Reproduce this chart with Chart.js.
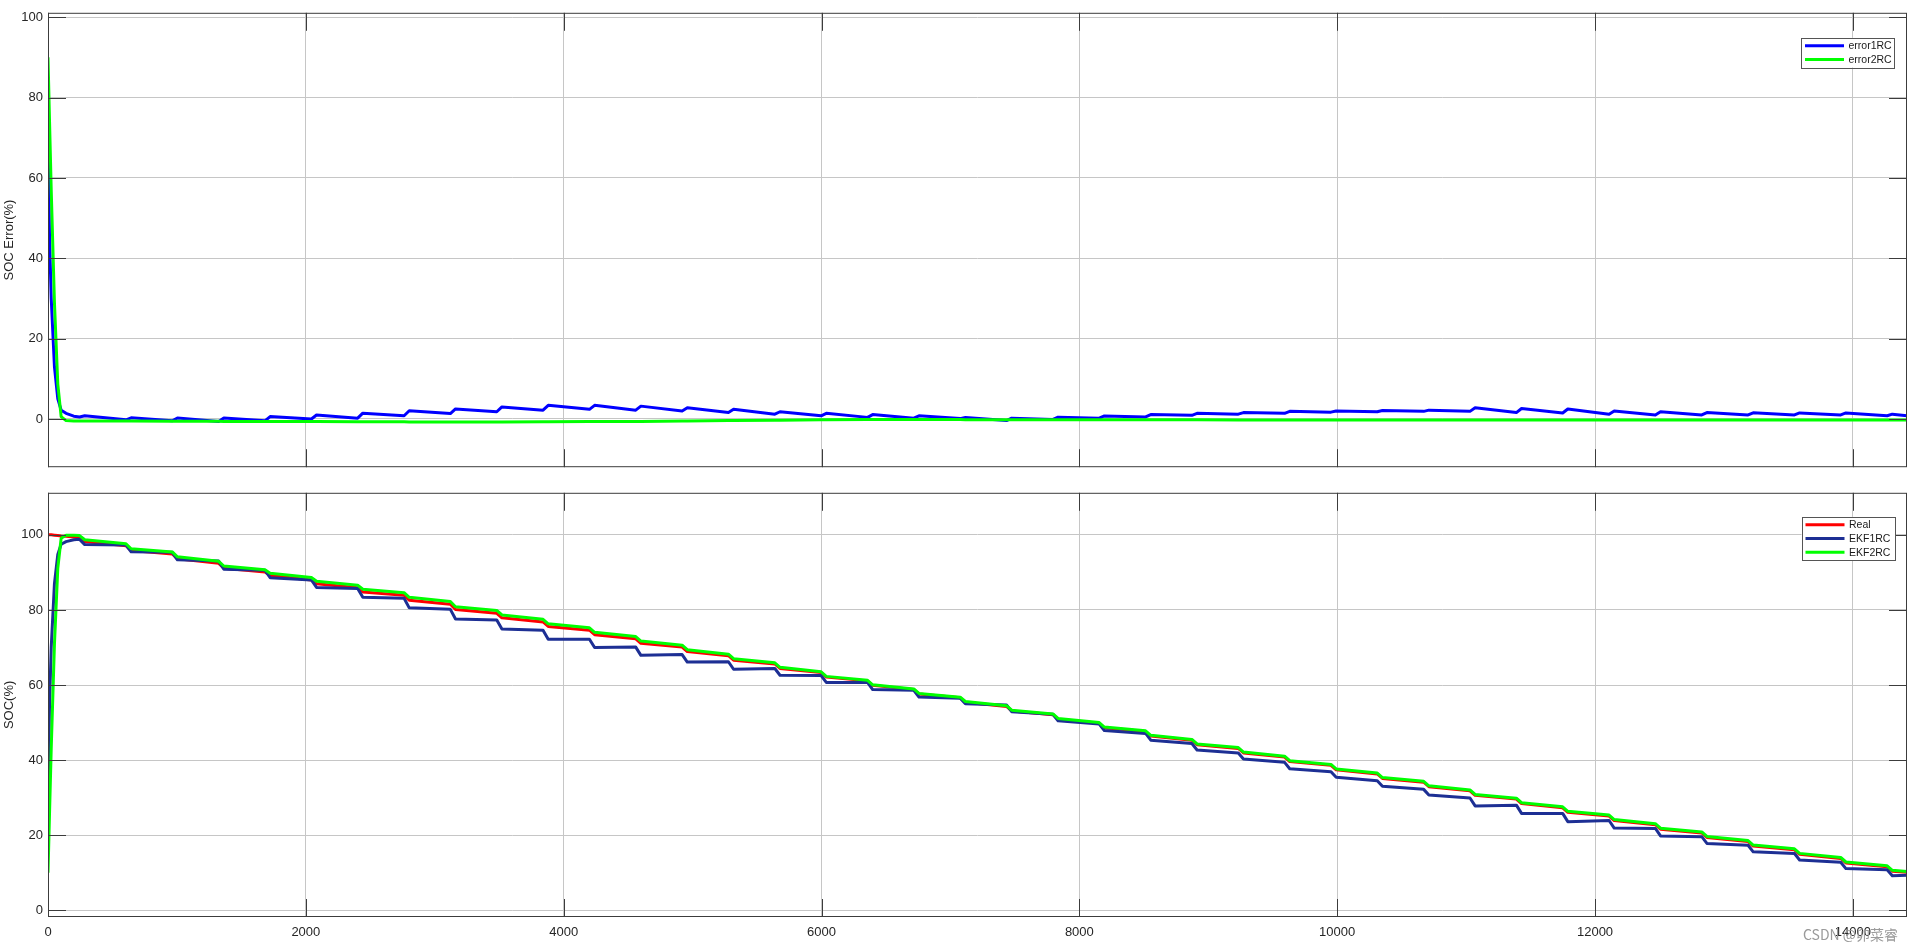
<!DOCTYPE html>
<html>
<head>
<meta charset="utf-8">
<script src="https://cdn.jsdelivr.net/npm/chart.js@4.4.1/dist/chart.umd.min.js"></script>
<style>
html, body { margin: 0; padding: 0; background: #fff; overflow: hidden; }
#wrap { position: relative; width: 1917px; height: 949px; background: #fff; }
canvas { position: absolute; left: 0; }
#c1 { top: 0; }
#c2 { top: 480px; }
#mark { position: absolute; left: 1803px; top: 924px; font: 14px "Noto Sans CJK SC", sans-serif; color: #9a9a9a; white-space: nowrap; }
</style>
</head>
<body>
<div id="wrap">
  <canvas id="c1" width="1917" height="480"></canvas>
  <canvas id="c2" width="1917" height="469"></canvas>
  <div id="mark">CSDN @卯菜睿</div>
</div>
<script>
// time samples (s): start-up, then two samples per discharge pulse
let timeS = [0, 12, 25, 50, 76, 102, 140, 200,
  245, 285, 605, 645, 964, 1004, 1324, 1364, 1683, 1723, 2043, 2083,
  2402, 2442, 2762, 2802, 3121, 3161, 3481, 3521, 3840, 3880,
  4200, 4240, 4559, 4599, 4919, 4959, 5278, 5318, 5638, 5678,
  5997, 6037, 6357, 6397, 6716, 6756, 7076, 7116, 7435, 7475,
  7795, 7835, 8154, 8194, 8514, 8554, 8873, 8913, 9233, 9273,
  9592, 9632, 9952, 9992, 10311, 10351, 10671, 10711, 11030, 11070,
  11390, 11430, 11749, 11789, 12109, 12149, 12468, 12508, 12828, 12868,
  13187, 13227, 13547, 13587, 13906, 13946, 14266, 14306, 14420];

// SOC error (%)
let err1 = [70, 45, 30, 13, 5, 2.2, 1.4, 0.7,
  0.5, 0.8, -0.2, 0.3, -0.45, 0.25, -0.6, 0.25, -0.45, 0.6, 0.0, 1.0,
  0.2, 1.45, 0.8, 2.05, 1.35, 2.5, 1.8, 3.0, 2.2, 3.4,
  2.4, 3.4, 2.2, 3.2, 2.0, 2.8, 1.6, 2.4, 1.2, 1.8,
  0.8, 1.4, 0.4, 1.1, 0.2, 0.8, 0.1, 0.4, -0.4, 0.2,
  -0.1, 0.45, 0.2, 0.75, 0.5, 1.1, 0.9, 1.4, 1.2, 1.6,
  1.4, 1.9, 1.7, 2.0, 1.8, 2.1, 1.9, 2.2, 1.9, 2.8,
  1.6, 2.6, 1.5, 2.5, 1.2, 2.0, 1.0, 1.8, 1.0, 1.6,
  1.0, 1.55, 1.0, 1.5, 1.0, 1.5, 0.8, 1.2, 0.8];
let err2 = [90, 74, 57, 29, 8.7, 0.6, -0.4, -0.5,
  -0.5, -0.5, -0.5, -0.5, -0.55, -0.55, -0.55, -0.6, -0.6, -0.6, -0.65, -0.65,
  -0.7, -0.7, -0.7, -0.75, -0.75, -0.75, -0.75, -0.75, -0.7, -0.7,
  -0.65, -0.65, -0.6, -0.6, -0.5, -0.5, -0.4, -0.4, -0.3, -0.3,
  -0.2, -0.2, -0.15, -0.15, -0.15, -0.15, -0.15, -0.2, -0.2, -0.2,
  -0.2, -0.2, -0.2, -0.2, -0.2, -0.2, -0.2, -0.2, -0.25, -0.25,
  -0.25, -0.25, -0.25, -0.25, -0.25, -0.25, -0.25, -0.25, -0.25, -0.25,
  -0.25, -0.25, -0.25, -0.25, -0.25, -0.25, -0.25, -0.25, -0.25, -0.25,
  -0.25, -0.25, -0.25, -0.25, -0.25, -0.25, -0.25, -0.25, -0.25];

// SOC (%)
let socReal = [100, 100, 100, 99.9, 99.8, 99.7, 99.6, 99.4,
  99.3, 98.2, 97.1, 95.8, 94.9, 93.6, 92.4, 91.1, 90.1, 89.2, 88.0, 87.0,
  85.9, 84.8, 83.9, 82.6, 81.5, 80.1, 79.1, 77.9, 76.8, 75.6,
  74.6, 73.4, 72.3, 71.1, 70.1, 68.9, 67.8, 66.6, 65.6, 64.4,
  63.3, 62.1, 61.1, 59.9, 58.8, 57.6, 56.6, 55.4, 54.3, 53.1,
  52.1, 50.9, 49.8, 48.6, 47.6, 46.4, 45.3, 44.1, 43.1, 41.9,
  40.8, 39.6, 38.6, 37.4, 36.3, 35.1, 34.1, 32.9, 31.8, 30.6,
  29.6, 28.4, 27.3, 26.1, 25.1, 23.9, 22.8, 21.6, 20.6, 19.4,
  18.3, 17.1, 16.1, 14.9, 13.8, 12.6, 11.6, 10.4, 10.1];
let socEkf1 = [30, 55, 70, 87, 94.8, 97.5, 98.2, 98.7,
  98.8, 97.4, 97.3, 95.5, 95.35, 93.35, 93.0, 90.85, 90.55, 88.6, 88.0, 86.0,
  85.7, 83.35, 83.1, 80.55, 80.15, 77.6, 77.3, 74.9, 74.6, 72.2,
  72.2, 70.0, 70.1, 67.9, 68.1, 66.1, 66.2, 64.2, 64.4, 62.6,
  62.5, 60.7, 60.7, 58.8, 58.6, 56.8, 56.5, 55.0, 54.7, 52.9,
  52.2, 50.45, 49.6, 47.85, 47.1, 45.3, 44.4, 42.7, 41.9, 40.3,
  39.4, 37.7, 36.9, 35.4, 34.5, 33.0, 32.2, 30.7, 29.9, 27.8,
  28.0, 25.8, 25.8, 23.6, 23.9, 21.9, 21.8, 19.8, 19.6, 17.8,
  17.3, 15.55, 15.1, 13.4, 12.8, 11.1, 10.8, 9.2, 9.3];
let socEkf2 = [10, 26, 43, 70.9, 91.1, 99.1, 99.9, 99.9,
  99.8, 98.7, 97.6, 96.3, 95.45, 94.15, 92.95, 91.7, 90.7, 89.8, 88.65, 87.65,
  86.6, 85.5, 84.6, 83.35, 82.25, 80.85, 79.85, 78.65, 77.5, 76.3,
  75.25, 74.05, 72.9, 71.7, 70.6, 69.4, 68.2, 67.0, 65.9, 64.7,
  63.5, 62.3, 61.25, 60.05, 58.95, 57.75, 56.75, 55.6, 54.5, 53.3,
  52.3, 51.1, 50.0, 48.8, 47.8, 46.6, 45.5, 44.3, 43.35, 42.15,
  41.05, 39.85, 38.85, 37.65, 36.55, 35.35, 34.35, 33.15, 32.05, 30.85,
  29.85, 28.65, 27.55, 26.35, 25.35, 24.15, 23.05, 21.85, 20.85, 19.65,
  18.55, 17.35, 16.35, 15.15, 14.05, 12.85, 11.85, 10.65, 10.35];

let xTicks = [0, 2000, 4000, 6000, 8000, 10000, 12000, 14000];
let yTicks = [0, 20, 40, 60, 80, 100];

Chart.defaults.font.family = '"Liberation Sans", Arial, Helvetica, sans-serif';

function pts(values) {
    return timeS.map((t, i) => ({ x: t, y: values[i] }));
}

function setTicks(list) {
    return function (scale) {
        scale.ticks = list.map(v => ({ value: v }));
    };
}

// MATLAB-like box, inward ticks, y label and legend
let matlabAxes = {
    id: 'matlabAxes',
    afterDraw(chart, args, opts) {
        let ctx = chart.ctx;
        let a = chart.chartArea;
        let xs = chart.scales.x, ys = chart.scales.y;
        ctx.save();
        ctx.strokeStyle = '#3c3c3c';
        ctx.lineWidth = 1;
        ctx.beginPath();
        yTicks.forEach(v => {
            let y = Math.round(ys.getPixelForValue(v)) + 0.5;
            ctx.moveTo(a.left, y); ctx.lineTo(a.left + 18, y);
            ctx.moveTo(a.right, y); ctx.lineTo(a.right - 18, y);
        });
        xTicks.forEach(v => {
            let x = Math.round(xs.getPixelForValue(v)) + 0.5;
            ctx.moveTo(x, a.bottom); ctx.lineTo(x, a.bottom - 18);
            ctx.moveTo(x, a.top); ctx.lineTo(x, a.top + 18);
        });
        ctx.stroke();
        ctx.strokeRect(a.left + 0.5, a.top + 0.5, a.right - a.left - 1, a.bottom - a.top - 1);

        // y axis title
        ctx.fillStyle = '#262626';
        ctx.font = '13px "Liberation Sans", Arial, sans-serif';
        ctx.textAlign = 'center';
        ctx.textBaseline = 'middle';
        ctx.translate(9, (a.top + a.bottom) / 2);
        ctx.rotate(-Math.PI / 2);
        ctx.fillText(opts.title, 0, 0);
        ctx.setTransform(1, 0, 0, 1, 0, 0);

        // legend box
        let sets = chart.data.datasets;
        let bx = a.right - opts.boxRight - 93.5;
        let by = a.top + opts.boxTop;
        let bh = 8 + (sets.length - 1) * 13.7 + 8;
        ctx.fillStyle = '#fff';
        ctx.fillRect(bx, by, 93.5, bh);
        ctx.strokeStyle = '#555';
        ctx.lineWidth = 1;
        ctx.strokeRect(Math.round(bx) + 0.5, Math.round(by) + 0.5, 93, Math.round(bh));
        ctx.font = '10.5px "Liberation Sans", Arial, sans-serif';
        ctx.textAlign = 'left';
        sets.forEach((ds, i) => {
            let ly = by + 8 + i * 13.7;
            ctx.strokeStyle = ds.borderColor;
            ctx.lineWidth = 3;
            ctx.beginPath();
            ctx.moveTo(bx + 4, ly); ctx.lineTo(bx + 43, ly);
            ctx.stroke();
            ctx.fillStyle = '#1a1a1a';
            ctx.fillText(ds.label, bx + 47.5, ly + 0.5);
        });
        ctx.restore();
    }
};

function lineSet(label, values, color, order) {
    return {
        label: label,
        data: pts(values),
        borderColor: color,
        backgroundColor: color,
        borderWidth: 3,
        pointRadius: 0,
        tension: 0,
        borderJoinStyle: 'round',
        order: order
    };
}

function makeOptions(cfg) {
    return {
        responsive: false,
        animation: false,
        devicePixelRatio: 1,
        layout: { padding: { top: cfg.padTop, right: 10, left: 0, bottom: 0 } },
        plugins: {
            legend: { display: false },
            tooltip: { enabled: false },
            matlabAxes: { title: cfg.title, boxRight: cfg.boxRight, boxTop: cfg.boxTop }
        },
        scales: {
            x: {
                type: 'linear',
                min: 0,
                max: 14420,
                afterBuildTicks: setTicks(xTicks),
                afterFit: s => { s.height = cfg.xHeight; },
                border: { display: false },
                grid: { color: '#c6c6c6', drawTicks: false },
                ticks: {
                    display: cfg.xLabels,
                    padding: 8,
                    color: '#262626',
                    font: { size: 13 },
                    maxRotation: 0,
                    autoSkip: false,
                    callback: v => String(v)
                }
            },
            y: {
                min: cfg.yMin,
                max: cfg.yMax,
                afterBuildTicks: setTicks(yTicks),
                afterFit: s => { s.width = 48; },
                border: { display: false },
                grid: { color: '#c6c6c6', drawTicks: false },
                ticks: { padding: 5, color: '#262626', font: { size: 13 }, callback: v => String(v) }
            }
        }
    };
}

new Chart(document.getElementById('c1').getContext('2d'), {
    type: 'line',
    data: {
        datasets: [
            lineSet('error1RC', err1, '#0000ff', 2),
            lineSet('error2RC', err2, '#00ff00', 1)
        ]
    },
    options: makeOptions({ title: 'SOC Error(%)', padTop: 6, xHeight: 12, xLabels: false,
        yMin: -12, yMax: 101.1, boxRight: 12.5, boxTop: 25 }),
    plugins: [matlabAxes]
});

new Chart(document.getElementById('c2').getContext('2d'), {
    type: 'line',
    data: {
        datasets: [
            lineSet('Real', socReal, '#ff0000', 3),
            lineSet('EKF1RC', socEkf1, '#1d2f94', 2),
            lineSet('EKF2RC', socEkf2, '#00ff00', 1)
        ]
    },
    options: makeOptions({ title: 'SOC(%)', padTop: 8, xHeight: 32, xLabels: true,
        yMin: -1.8, yMax: 111.2, boxRight: 12, boxTop: 24 }),
    plugins: [matlabAxes]
});
</script>
</body>
</html>
